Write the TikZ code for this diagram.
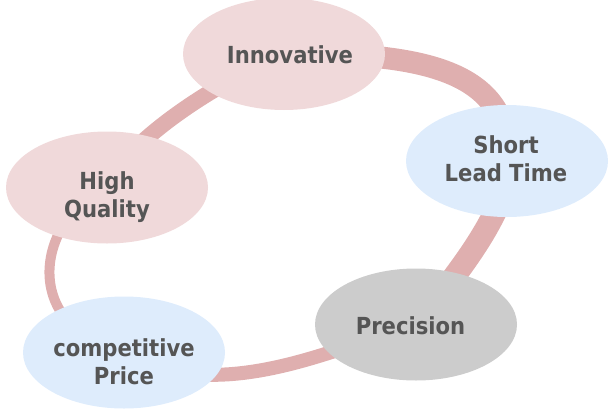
\documentclass[tikz,border=0pt]{standalone}
\usepackage{fontspec}
\setmainfont{DejaVu Sans Condensed}
\usetikzlibrary{shapes.geometric}
\definecolor{ringc}{RGB}{223,175,175}
\definecolor{pinkc}{RGB}{240,217,218}
\definecolor{bluec}{RGB}{222,236,252}
\definecolor{grayc}{RGB}{204,204,204}
\definecolor{textc}{RGB}{85,85,85}
\begin{document}
\begin{tikzpicture}[x=1pt,y=-1pt,
  ring/.style={draw=ringc},
  bubble/.style={ellipse, draw=none, minimum width=202pt, minimum height=112pt, inner sep=0pt},
  pinkb/.style={bubble, fill=pinkc},
  blueb/.style={bubble, fill=bluec},
  grayb/.style={bubble, fill=grayc},
  lbl/.style={font=\fontsize{23.5}{28}\selectfont\bfseries, text=textc, align=center, inner sep=0pt}]
\useasboundingbox (0,0) rectangle (613,410);
\path (284,54) coordinate (innc) (507,161) coordinate (sltc) (416,324.5) coordinate (precc)
      (124,352.5) coordinate (cpc) (107,187.5) coordinate (hqc);
% ring
\draw[ring, line width=22pt] (innc) .. controls (420,52) and (512,70) .. (sltc);
\draw[ring, line width=23pt] (sltc) .. controls (512,200) and (470,260) .. (precc);
\draw[ring, line width=14pt] (precc) .. controls (340,345) and (220,408) .. (cpc);
\draw[ring, line width=10pt] (cpc) .. controls (15,325) and (40,215) .. (hqc);
\draw[ring, line width=16pt] (hqc) .. controls (120,150) and (200,90) .. (innc);
% ellipses
\node[pinkb] (inn) at (innc) {};
\node[blueb] (slt) at (sltc) {};
\node[grayb] (prec) at (precc) {};
\node[blueb] (cp) at (cpc) {};
\node[pinkb] (hq) at (hqc) {};
% labels
\node[lbl] (innt) at (290,54.3) {Innovative};
\node[lbl] (sltt) at (506,158.5) {Short\\Lead Time};
\node[lbl] (prect) at (410.5,326) {Precision};
\node[lbl] (cpt) at (124,361.4) {competitive\\Price};
\node[lbl] (hqt) at (107,197.5) {High\\Quality};
\end{tikzpicture}
\end{document}
